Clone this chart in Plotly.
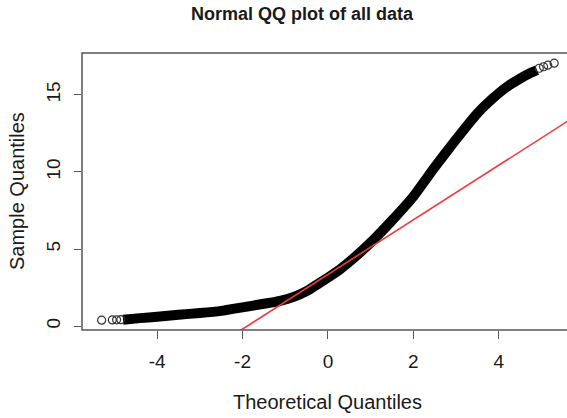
import plotly.graph_objects as go

# Theoretical quantiles / sample quantiles (dense body of the QQ band)
theo_body = [-4.8, -4.4, -4.0, -3.5, -3.0, -2.5, -2.0, -1.5, -1.12, -0.8, -0.5, -0.25, 0.0,
             0.28, 0.6, 1.06, 1.5, 2.0, 2.5, 3.0, 3.5, 4.0, 4.26, 4.5, 4.73, 4.9]
samp_body = [0.42, 0.52, 0.61, 0.74, 0.85, 0.99, 1.22, 1.45, 1.64, 1.9, 2.27, 2.7, 3.15,
             3.68, 4.4, 5.58, 6.85, 8.4, 10.3, 12.1, 13.8, 15.1, 15.64, 16.05, 16.4, 16.6]
# Sparse tail points drawn as individual open circles
theo_tail = [-5.3, -5.05, -4.95, -4.85, 4.95, 5.05, 5.15, 5.3]
samp_tail = [0.39, 0.40, 0.41, 0.42, 16.72, 16.82, 16.92, 17.05]
# qqline
line_x = [-2.2, 5.8]
line_intercept = 3.35
line_slope = 1.77
line_y = [line_intercept + line_slope * v for v in line_x]

xticks = [-4, -2, 0, 2, 4]
yticks = [0, 5, 10, 15]

W, H = 567, 418
L, R, T, B = 82, 0, 53, 88
pw, ph = W - L - R, H - T - B

def px_to_paper_y(py):
    return (H - B - py) / ph

def px_to_paper_x(px):
    return (px - L) / pw

font = "Liberation Sans, Arial, sans-serif"
txt = "#1a1a1a"

fig = go.Figure()
fig.add_trace(go.Scatter(x=theo_body, y=samp_body, mode="lines",
                         line=dict(color="black", width=10, shape="spline", smoothing=0.5),
                         hoverinfo="skip", showlegend=False))
fig.add_trace(go.Scatter(x=theo_tail, y=samp_tail, mode="markers",
                         marker=dict(symbol="circle-open", size=8, color="#333",
                                     line=dict(width=1.2, color="#333")),
                         showlegend=False))
fig.add_trace(go.Scatter(x=line_x, y=line_y, mode="lines",
                         line=dict(color="#f03a3a", width=1.6),
                         showlegend=False))

fig.update_layout(
    width=W, height=H,
    margin=dict(l=L, r=R, t=T, b=B),
    paper_bgcolor="white", plot_bgcolor="white",
    font=dict(family=font, color=txt),
    xaxis=dict(range=[-5.76, 5.60], tickvals=xticks, ticktext=[str(v) for v in xticks],
               showgrid=False, zeroline=False, showline=False,
               ticks="outside", ticklen=8, tickwidth=1.2, tickcolor="#555",
               tickfont=dict(size=19, family=font, color=txt),
               ticklabelstandoff=6),
    yaxis=dict(range=[-0.25, 17.71], tickvals=yticks, ticktext=[str(v) for v in yticks],
               showgrid=False, zeroline=False, showline=False,
               ticks="outside", ticklen=7, tickwidth=1.2, tickcolor="#555",
               tickangle=-90,
               tickfont=dict(size=19, family=font, color=txt),
               ticklabelstandoff=6),
    shapes=[dict(type="rect", xref="paper", yref="paper", x0=0, y0=0, x1=1.03, y1=1,
                 line=dict(color="#555", width=1.5), fillcolor="rgba(0,0,0,0)", layer="above")],
    annotations=[
        dict(text="<b>Normal QQ plot of all data</b>", xref="paper", yref="paper",
             x=px_to_paper_x(302), y=px_to_paper_y(14), showarrow=False,
             xanchor="center", yanchor="middle", font=dict(size=18, family=font, color=txt)),
        dict(text="Theoretical Quantiles", xref="paper", yref="paper",
             x=px_to_paper_x(327), y=px_to_paper_y(402), showarrow=False,
             xanchor="center", yanchor="middle", font=dict(size=20, family=font, color=txt)),
        dict(text="Sample Quantiles", xref="paper", yref="paper",
             x=px_to_paper_x(17), y=px_to_paper_y(191), showarrow=False, textangle=-90,
             xanchor="center", yanchor="middle", font=dict(size=20, family=font, color=txt)),
    ],
)

fig.write_html("out.html")
